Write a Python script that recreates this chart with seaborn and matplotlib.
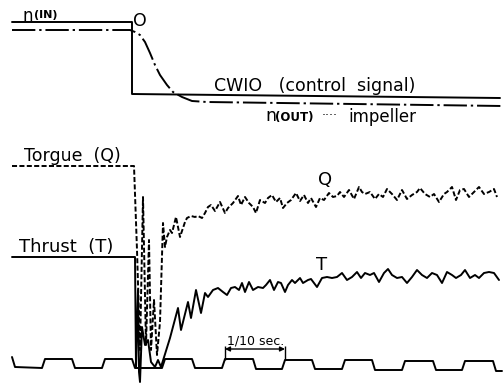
import matplotlib
matplotlib.use("Agg")
import matplotlib.pyplot as plt
import seaborn as sns
import pandas as pd

# ---------------- data (time axis in trace units, level downward) -------------
nin_t = [12, 132, 132, 500]
nin_v = [22, 22, 94, 98]

nout_t = [12, 130, 135, 140, 145, 150, 155, 160, 167, 173, 182, 192, 207, 502]
nout_v = [30, 30, 32, 35, 42, 53, 65, 75, 85, 92, 97, 101, 102, 106]

q_t = [12, 134, 137, 140, 143, 146, 149, 151, 154, 157,
       160, 163, 165, 167, 170, 172, 176, 180, 185, 187,
       191, 195, 198, 202, 205, 208, 211, 215, 220, 225,
       228, 233, 238, 241, 245, 249, 253, 256, 260, 265,
       268, 272, 276, 280, 283, 287, 291, 296, 300, 304,
       308, 311, 316, 320, 324, 329, 333, 337, 340, 344,
       349, 354, 359, 362, 365, 370, 375, 379, 383, 387,
       392, 397, 402, 407, 412, 417, 420, 425, 430, 434,
       439, 444, 447, 452, 456, 460, 464, 469, 474, 479,
       484, 489, 494, 497]
q_v = [166, 166, 250, 350, 197, 345, 240, 350, 300, 355,
       322, 223, 247, 237, 230, 233, 217, 237, 222, 218,
       216, 217, 216, 218, 213, 207, 205, 211, 202, 213,
       208, 203, 196, 205, 197, 203, 207, 213, 200, 203,
       198, 195, 202, 198, 208, 203, 200, 193, 201, 195,
       203, 198, 207, 198, 200, 193, 197, 196, 192, 197,
       190, 199, 187, 192, 194, 192, 199, 194, 197, 189,
       194, 200, 190, 199, 195, 192, 188, 194, 197, 194,
       202, 194, 192, 187, 200, 190, 189, 197, 192, 187,
       194, 192, 189, 197]

t_t = [12, 135, 136, 138, 139, 140, 142, 145, 148, 151,
       155, 158, 161, 170, 178, 181, 188, 191, 196, 201,
       205, 208, 213, 218, 223, 227, 231, 235, 239, 242,
       245, 249, 253, 258, 263, 266, 270, 274, 278, 281,
       285, 288, 292, 295, 300, 303, 308, 311, 317, 322,
       327, 332, 337, 342, 347, 352, 357, 361, 365, 370,
       374, 379, 384, 388, 392, 397, 402, 407, 412, 417,
       422, 427, 432, 437, 442, 447, 452, 456, 461, 465,
       470, 475, 479, 484, 489, 494, 499]
t_v = [257, 257, 367, 290, 372, 382, 327, 345, 340, 362,
       367, 360, 367, 338, 308, 330, 302, 318, 290, 313,
       293, 297, 290, 288, 292, 295, 288, 287, 290, 283,
       292, 282, 290, 287, 288, 285, 280, 290, 282, 283,
       292, 285, 280, 283, 278, 283, 280, 279, 287, 278,
       277, 278, 277, 273, 280, 277, 272, 278, 273, 275,
       273, 282, 273, 269, 275, 278, 277, 283, 277, 270,
       275, 278, 273, 275, 283, 272, 275, 278, 275, 270,
       278, 275, 278, 273, 272, 273, 280]

clock_t = [12, 15, 42, 45, 72, 75, 102, 105, 132, 135,
           162, 165, 192, 195, 222, 225, 253, 256, 282, 285,
           312, 315, 342, 345, 372, 375, 402, 405, 433, 436,
           462, 465, 493, 496, 502]
clock_v = [357, 367, 368, 359, 359, 368, 368, 359, 359, 368,
           368, 359, 359, 368, 368, 359, 359, 369, 369, 360,
           360, 369, 369, 360, 360, 370, 370, 361, 361, 370,
           370, 361, 361, 371, 371]

scale_span = (225, 285)      # 1/10 sec. marker
scale_level = 349

# ---------------- figure ------------------------------------------------------
sns.set_theme(style="white")
plt.rcParams['font.family'] = ['DejaVu Sans']
plt.rcParams['text.color'] = 'black'

fig = plt.figure(figsize=(5.04, 3.83), dpi=100)
ax = fig.add_axes([0, 0, 1, 1])
ax.set_xlim(0, 504)
ax.set_ylim(383, 0)
ax.axis('off')

lw = 1.4
common = dict(sort=False, estimator=None, ax=ax, color='black', legend=False)

sns.lineplot(data=pd.DataFrame({'t': nin_t, 'v': nin_v}), x='t', y='v',
             lw=lw, **common)
sns.lineplot(data=pd.DataFrame({'t': nout_t, 'v': nout_v}), x='t', y='v',
             lw=lw, linestyle=(0, (12, 2, 1.2, 2)), **common)
sns.lineplot(data=pd.DataFrame({'t': q_t, 'v': q_v}), x='t', y='v',
             lw=lw, linestyle=(0, (2.6, 1.2)), **common)
sns.lineplot(data=pd.DataFrame({'t': t_t, 'v': t_v}), x='t', y='v',
             lw=lw, **common)
sns.lineplot(data=pd.DataFrame({'t': clock_t, 'v': clock_v}), x='t', y='v',
             lw=lw, **common)

# 1/10 sec. scale
ax.annotate('', xy=(scale_span[1], scale_level), xytext=(scale_span[0], scale_level),
            arrowprops=dict(arrowstyle='<|-|>', color='black', lw=1.0,
                            mutation_scale=7, shrinkA=0, shrinkB=0))
ax.vlines(list(scale_span), scale_level - 3, 360, color='black', lw=1.0)
ax.text(256, 341, '1/10 sec.', fontsize=9, ha='center', va='center', color='black')

# labels
tk = dict(color='black', va='center')
ax.text(23, 16, 'n', fontsize=12, ha='left', **tk)
ax.text(34, 15, '(IN)', fontsize=8, ha='left', fontweight='bold', **tk)
ax.text(140, 21, 'O', fontsize=12.5, ha='center', **tk)
ax.text(214, 86, 'CWIO   (control  signal)', fontsize=12.5, ha='left', **tk)
ax.text(265, 116, 'n', fontsize=12.5, ha='left', **tk)
ax.text(275, 117, '(OUT)', fontsize=8.5, ha='left', fontweight='bold', **tk)
ax.text(322, 116, '\u00b7\u00b7\u00b7\u00b7', fontsize=9, ha='left', **tk)
ax.text(348, 117, 'impeller', fontsize=12, ha='left', **tk)
ax.text(24, 156, 'Torgue  (Q)', fontsize=12.5, ha='left', **tk)
ax.text(325, 180, 'Q', fontsize=13, ha='center', **tk)
ax.text(19, 247, 'Thrust  (T)', fontsize=13, ha='left', **tk)
ax.text(322, 265, 'T', fontsize=13, ha='center', **tk)

fig.savefig('out.png', dpi=100, facecolor='white')
